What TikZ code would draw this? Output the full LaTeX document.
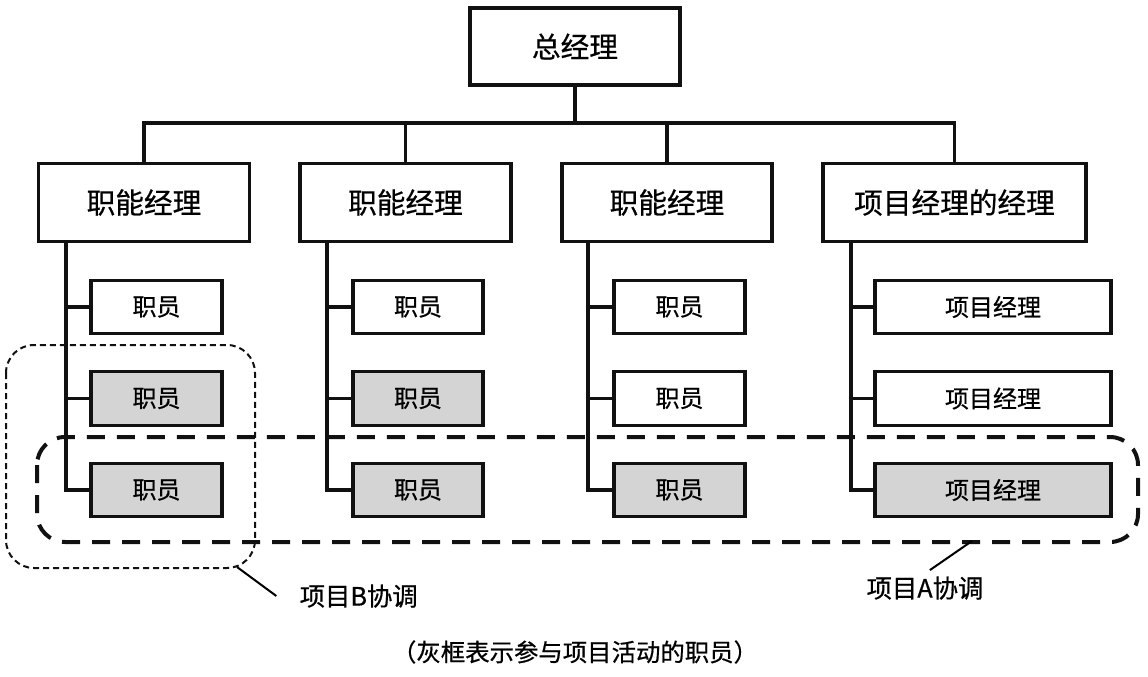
\documentclass[tikz,border=0pt]{standalone}
\usepackage{fontspec}
\setmainfont{Noto Sans CJK SC}[FakeBold=0.6]
\usetikzlibrary{calc}

\begin{document}
\begin{tikzpicture}[x=0.75pt, y=-0.75pt,
    box/.style={draw=borderColour, line width=2.3pt, fill=white, inner sep=0pt, align=center},
    mgrbox/.style={box, minimum height=59pt, font=\fontsize{21.5}{24}\selectfont},
    staffbox/.style={box, minimum height=40pt, font=\fontsize{18}{20}\selectfont},
    active/.style={fill=fillColour},
    link/.style={draw=borderColour, line width=2.3pt},
    groupline/.style={draw=borderColour, rounded corners=21pt},
    note/.style={font=\fontsize{19}{22}\selectfont},
  ]
    % Define page size
    \useasboundingbox (0,0) rectangle (1148,677);

    \definecolor{borderColour}{HTML}{111111}
    \definecolor{fillColour}{HTML}{D4D4D4}

    % Draw the top of the chart
    \node[mgrbox, minimum width=157.5pt, minimum height=57.75pt] (gm) at (575,46.5) {总经理};
    \coordinate (bus) at (575,123);

    % Draw the managers
    \node[mgrbox, minimum width=158.25pt] (m1) at (144,202.5) {职能经理};
    \node[mgrbox, minimum width=158.25pt] (m2) at (405.5,202.5) {职能经理};
    \node[mgrbox, minimum width=157.5pt] (m3) at (667,202.5) {职能经理};
    \node[mgrbox, minimum width=197.25pt] (m4) at (954.5,202.5) {项目经理的经理};

    % Draw the staff in each column
    \foreach \c/\x/\w/\fillB in {1/156.5/98.25pt/fillColour, 2/418/97.5pt/fillColour, 3/679.5/98.25pt/white} {
        \node[staffbox, minimum width=\w] (s\c1) at (\x,307) {职员};
        \node[staffbox, minimum width=\w, fill=\fillB] (s\c2) at (\x,398.5) {职员};
        \node[staffbox, minimum width=\w, active] (s\c3) at (\x,490) {职员};
    }
    \node[staffbox, minimum width=177pt] (s41) at (993,307) {项目经理};
    \node[staffbox, minimum width=177pt] (s42) at (993,398.5) {项目经理};
    \node[staffbox, minimum width=177pt, active] (s43) at (993,490) {项目经理};

    % Draw the lines from the top
    \draw[link] (gm.south) -- (bus);
    \draw[link] (m1.north) -- (m1.north |- bus) -- (m4.north |- bus) -- (m4.north);
    \draw[link] (m2.north) -- (m2.north |- bus);
    \draw[link] (m3.north) -- (m3.north |- bus);

    % Draw the trunk lines down to the staff
    \foreach \c/\tx in {1/66, 2/327, 3/588, 4/851} {
        \coordinate (t\c) at (\tx,0);
        \draw[link] (m\c.south -| t\c) |- (s\c3.west);
        \draw[link] (s\c1.west) -- (s\c1.west -| t\c);
        \draw[link] (s\c2.west) -- (s\c2.west -| t\c);
    }

    % Draw the project groups
    \draw[groupline, line width=1.5pt, dash pattern=on 4.5pt off 3pt] (6,345) rectangle (255,568);
    \draw[groupline, line width=3pt, dash pattern=on 13.5pt off 9pt] (37,437) rectangle (1138,542);

    % Label the project groups
    \coordinate (bStart) at (237,567);
    \coordinate (aStart) at (972,541);
    \node[note, anchor=west] (labB) at (295,596) {项目B协调};
    \node[note] (labA) at (925,588) {项目A协调};
    \draw[line width=1.5pt] (bStart) -- ([xshift=-14pt]labB.west);
    \draw[line width=1.5pt, shorten >=2pt] (aStart) -- ([xshift=2pt]labA.north);

    % Caption
    \node[font=\fontsize{18.3}{20}\selectfont] (caption) at (575,652) {（灰框表示参与项目活动的职员）};

\end{tikzpicture}
\end{document}
